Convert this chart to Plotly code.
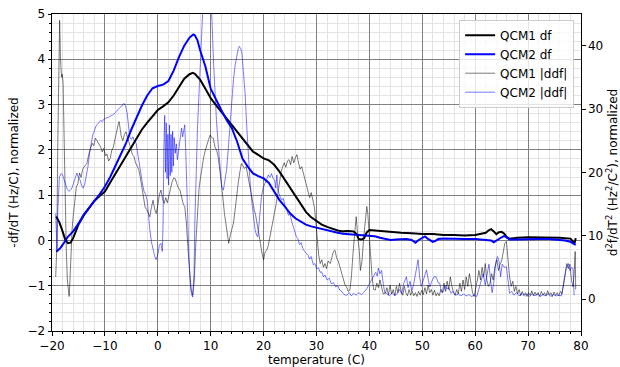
import plotly.graph_objects as go

# ---------------- data ----------------
qcm1_df_x = [-19.2,-18.6,-18,-17.5,-17,-16.5,-16,-15,-14,-13,-12,-11,-10,-9,-8,-7,-6,-5,-4,-3,-2,-1,0,1,2,3,4,5,6,6.6,7,8,9,10,11,12,13,14,15,16,17,18,19,20,21,22,23,24,25,26,27,28,29,30,31,32,33,34,35,36,37,37.5,38,38.5,39,39.5,40,41,42,44,46,48,50,52,54,56,58,60,61,62,62.5,63,63.5,64,64.5,65,65.5,66,66.5,67,68,70,72,74,76,77,78,78.5,78.8,79]
qcm1_df_y = [0.53,0.4,0.2,0.02,-0.06,-0.05,0.05,0.35,0.55,0.72,0.87,0.98,1.08,1.28,1.48,1.68,1.87,2.07,2.27,2.45,2.6,2.75,2.88,2.96,3.05,3.2,3.4,3.57,3.67,3.7,3.68,3.55,3.35,3.14,2.99,2.84,2.7,2.55,2.4,2.26,2.11,1.96,1.89,1.81,1.77,1.67,1.52,1.34,1.15,0.97,0.78,0.63,0.51,0.42,0.35,0.3,0.26,0.22,0.2,0.21,0.2,0.15,0.03,0.02,0.05,0.18,0.23,0.22,0.2,0.19,0.17,0.16,0.14,0.14,0.12,0.12,0.11,0.12,0.14,0.17,0.22,0.25,0.2,0.14,0.18,0.19,0.15,0.07,0.04,0.05,0.06,0.07,0.07,0.07,0.06,0.05,0.04,-0.02,-0.06,0.05]

qcm2_df_x = [-19.2,-18.5,-18,-17,-16,-15,-14,-13,-12,-11,-10,-9,-8,-7,-6,-5,-4,-3,-2,-1,0,1,2,3,4,5,6,6.7,7,7.5,8,9,10,11,12,13,14,15,16,17,18,19,20,21,22,23,24,25,26,27,28,29,30,31,32,33,34,35,36,37,38,39,40,41,42,43,44,45,46,47,48,48.7,49.3,50,50.5,51,52,52.5,53,54,56,58,60,62,63,63.5,64,65,65.5,66,66.5,68,70,72,74,76,77,78,78.7,79]
qcm2_df_y = [-0.25,-0.18,-0.1,0.08,0.2,0.37,0.57,0.72,0.86,1.02,1.19,1.4,1.65,1.9,2.15,2.45,2.72,2.98,3.2,3.36,3.41,3.44,3.52,3.75,4.05,4.3,4.48,4.55,4.53,4.42,4.2,3.84,3.35,3.1,2.88,2.66,2.48,2.18,1.81,1.63,1.48,1.42,1.37,1.27,1.08,0.89,0.75,0.6,0.49,0.42,0.35,0.31,0.28,0.25,0.22,0.19,0.17,0.15,0.14,0.13,0.12,0.11,0.11,0.09,0.06,0.03,0.01,0.02,0.02,0.03,0.01,-0.05,0.01,0.06,0.09,0.04,-0.03,-0.01,0.03,0.04,0.03,0.03,0.03,0.02,0.0,-0.04,0.0,0.07,0.1,0.06,0.02,0.02,0.03,0.03,0.03,0.02,0.0,-0.03,-0.08,-0.1]

qcm1_ddf_x = [-19.3,-19.1,-18.9,-18.7,-18.55,-18.4,-18.2,-18.05,-17.9,-17.7,-17.5,-17.3,-17.1,-16.9,-16.75,-16.6,-16.4,-16.2,-16.0,-15.7,-15.4,-15.1,-14.8,-14.5,-14.2,-13.8,-13.4,-13.0,-12.7,-12.4,-12.1,-11.8,-11.5,-11.2,-10.8,-10.5,-10.2,-9.9,-9.6,-9.3,-9.0,-8.7,-8.4,-8.1,-7.8,-7.5,-7.3,-7.1,-6.9,-6.6,-6.3,-6.0,-5.7,-5.4,-5.1,-4.8,-4.5,-4.2,-3.9,-3.6,-3.3,-3.0,-2.7,-2.4,-2.1,-1.8,-1.5,-1.2,-0.9,-0.6,-0.3,0.0,0.3,0.6,0.9,1.2,1.5,1.8,2.1,2.4,2.7,3.0,3.3,3.6,3.9,4.2,4.5,4.8,5.1,5.4,5.7,6.0,6.3,6.6,6.9,7.2,7.5,7.8,8.1,8.4,8.7,9.0,9.3,9.6,9.9,10.2,10.5,10.8,11.1,11.4,11.7,12.0,12.3,12.6,12.9,13.2,13.4,13.7,14.0,14.3,14.6,14.9,15.2,15.5,15.8,16.1,16.4,16.7,17.0,17.3,17.6,17.9,18.2,18.5,18.8,19.1,19.4,19.7,20.0,20.3,20.6,20.9,21.2,21.5,21.8,22.1,22.4,22.7,23.0,23.3,23.6,23.9,24.2,24.5,24.8,25.1,25.4,25.7,26.0,26.3,26.6,26.9,27.2,27.5,27.8,28.1,28.4,28.7,29.0,29.3,29.6,29.9,30.1,30.4,30.7,31.0,31.3,31.6,31.9,32.2,32.6,32.9,33.2,33.5,33.8,34.1,34.4,34.8,35.1,35.4,35.7,36.0,36.3,36.6,36.9,37.2,37.5,37.8,38.1,38.3,38.6,38.9,39.2,39.5,39.7,39.9,40.2,40.5,40.8,41.1,41.4,41.7,42.0,42.3,42.6,43.0,43.3,43.6,43.9,44.2,44.5,44.8,45.1,45.4,45.7,46.0,46.3,46.6,46.9,47.2,47.5,47.8,48.1,48.4,48.7,49.0,49.3,49.6,49.9,50.2,50.5,50.8,51.1,51.4,51.7,52.0,52.3,52.6,52.9,53.2,53.5,53.8,54.1,54.4,54.7,55.0,55.3,55.6,55.9,56.2,56.5,56.8,57.1,57.4,57.7,58.0,58.3,58.6,58.9,59.2,59.5,59.8,60.1,60.4,60.7,61.0,61.3,61.6,61.9,62.2,62.5,62.8,63.1,63.4,63.7,64.1,64.4,64.7,65.0,65.3,65.6,65.9,66.2,66.5,66.8,67.1,67.4,67.7,68.0,68.3,68.6,68.9,69.2,69.5,69.8,70.1,70.4,70.7,71.0,71.3,71.6,71.9,72.2,72.5,72.8,73.1,73.4,73.7,74.0,74.3,74.6,74.9,75.2,75.5,75.8,76.1,76.4,76.7,77.0,77.3,77.6,77.9,78.2,78.5,78.7,78.9,79.0]
qcm1_ddf_y = [3.5,8,25,40,44,38,35,35.5,34,25,15,8,3,1.0,0.4,3,8,11,13,15.5,17.7,18.2,19.9,19.2,20.5,21.0,21.4,23,23.8,24.6,24.2,25.4,25.0,24.5,24.0,23.2,23.8,22.6,22.9,21.8,22.2,23.5,24.0,25.2,26.7,27.5,28.0,26.5,25.6,25.0,26.0,26.4,25.5,24.4,23.5,22.8,22.5,21.5,21.0,20.4,19.2,17.5,15.5,14.5,14.1,13.5,13.0,14.5,15.6,14.2,13.5,14.8,16.5,17.2,15.8,15.1,16.0,15.2,16.5,17.8,18.5,19.1,19.0,18.2,17.5,17.2,16.0,15.0,14.6,12,8,4,1.5,0.6,3,9,14,17.5,19.3,21,22.5,23.5,24.5,25.2,25.9,25.5,25.4,24.0,23.5,22.5,20.5,18.5,16,13.5,11.5,9.5,8.8,10,11,12.0,14,16.5,18.3,20,21.4,21.0,20.6,20.9,19.5,18,16.8,15.5,14.2,13.2,11.5,10,8.8,7.2,6.2,7.5,7.7,8.5,10,11.4,12.5,13.8,15.1,17,18.5,20,20.9,21.5,20.8,21.8,22.0,21.2,22.5,21.5,22.3,22.8,21.5,20.5,20.9,19.9,19.0,18.0,17.2,16.0,16.8,15.6,14.5,12,9.3,7,5.6,6.2,5.0,5.6,4.8,6,5.6,6.8,7.5,7.7,6.5,6.0,5.2,4.1,3.0,2.2,1.9,1.2,1.4,3.5,7.2,10.5,13.0,10,7.5,4.5,6,9.5,12.5,14.6,13.5,11,7,3.5,1.5,1.4,2.5,1.8,3.0,2.0,0.8,0.9,1.8,0.6,2.2,0.8,1.5,0.5,2.0,1.0,2.5,1.2,0.6,2.0,1.0,0.5,1.5,0.6,1.2,0.5,1.0,0.4,1.2,0.6,1.4,0.7,1.8,0.8,2.2,1.0,1.5,0.6,1.4,0.5,1.0,0.5,1.5,1.0,2.5,1.2,2.8,1.5,3.5,2.0,1.0,0.6,1.5,0.8,2.5,1.2,3.0,1.5,3.5,2.0,4.0,2.5,1.0,0.4,1.5,3.0,4.5,3.0,5.0,3.5,5.6,3.0,2.0,2.5,4.0,3.0,5.0,6.2,4.5,5.5,6.0,7.5,8.8,9.1,6.0,3.5,2.0,2.8,1.2,2.0,0.8,1.5,0.5,1.2,0.6,1.0,0.4,1.0,0.6,1.3,0.5,1.1,0.6,1.0,0.4,1.2,0.6,1.0,0.5,1.3,0.6,1.0,0.4,1.1,0.6,1.0,0.5,1.2,0.8,2.5,4.0,5.6,4.8,5.5,3.0,1.9,4.0,7.5,1.5]

qcm2_ddf_x = [-19.3,-19.2,-19.05,-18.9,-18.75,-18.6,-18.3,-18.0,-17.7,-17.4,-17.1,-16.8,-16.5,-16.2,-15.9,-15.6,-15.3,-15.0,-14.7,-14.4,-14.1,-13.8,-13.5,-13.2,-12.9,-12.6,-12.3,-12.0,-11.7,-11.4,-11.1,-10.8,-10.5,-10.2,-9.9,-9.6,-9.3,-9.0,-8.7,-8.4,-8.1,-7.8,-7.5,-7.2,-6.9,-6.6,-6.4,-6.1,-5.8,-5.6,-5.3,-5.0,-4.7,-4.4,-4.1,-3.8,-3.5,-3.2,-2.9,-2.6,-2.3,-2.0,-1.8,-1.5,-1.2,-0.9,-0.6,-0.3,0.0,0.3,0.6,0.85,1.0,1.15,1.3,1.45,1.6,1.75,1.9,2.05,2.2,2.35,2.5,2.65,2.8,2.95,3.1,3.3,3.5,3.7,3.9,4.1,4.3,4.5,4.7,4.9,5.1,5.3,5.5,5.7,5.9,6.1,6.35,6.6,6.85,7.0,7.2,7.5,7.8,8.0,8.3,8.6,9.0,9.5,9.9,10.2,10.5,10.8,11.1,11.4,11.7,12.1,12.4,12.7,13.0,13.3,13.6,13.9,14.3,14.6,14.9,15.2,15.4,15.7,15.9,16.2,16.5,16.8,17.1,17.4,17.8,18.1,18.4,18.7,18.9,19.1,19.3,19.6,19.9,20.3,20.6,20.9,21.2,21.5,21.8,22.1,22.3,22.5,22.7,22.9,23.1,23.4,23.7,24.0,24.4,24.7,25.0,25.3,25.6,25.9,26.2,26.5,26.8,27.1,27.4,27.7,28.1,28.4,28.7,29.0,29.4,29.7,30.0,30.4,30.7,31.0,31.3,31.6,32.0,32.4,32.8,33.2,33.6,34.0,34.4,34.8,35.2,35.7,36.2,36.6,37.0,37.5,38.0,38.5,39.0,39.5,40.0,40.4,40.8,41.2,41.5,41.7,42.0,42.3,42.6,42.9,43.3,43.8,44.3,44.8,45.2,45.7,46.1,46.5,47.0,47.3,47.7,48.0,48.4,48.8,49.2,49.5,49.8,50.2,50.5,50.8,51.1,51.4,51.8,52.2,52.6,53.0,53.3,53.6,54.0,54.3,54.6,55.0,55.4,55.8,56.3,56.8,57.3,57.8,58.3,58.8,59.3,59.8,60.3,60.7,61.1,61.5,61.9,62.3,62.6,62.9,63.2,63.5,63.9,64.2,64.5,64.8,65.1,65.5,65.9,66.2,66.5,66.9,67.3,67.8,68.3,68.8,69.3,69.8,70.3,70.8,71.3,71.8,72.3,72.8,73.3,73.8,74.3,74.8,75.3,75.8,76.3,76.6,76.9,77.2,77.6,77.9,78.2,78.5,78.7]
qcm2_ddf_y = [13.5,10,7.8,14,18.5,19.3,19.8,19.6,18.8,18.0,17.3,17.0,17.2,17.6,18.5,19.4,19.9,19.2,18.8,17.9,17.5,18.2,19.5,20.9,23.0,24.8,25.9,26.5,27.3,27.6,27.9,28.2,28.0,28.4,28.5,28.7,28.6,28.9,29.0,29.1,29.4,29.6,29.9,30.2,30.4,30.6,30.9,30.5,29.4,27.5,25.6,25.2,25.6,24.8,24.6,23.0,21.2,19.5,18.2,17.0,16.5,15.5,13.5,10.9,9.0,7.7,6.8,6.2,7.0,8.5,8.8,7.5,12,24,29,20,27.8,19,26,18,27.5,19.5,26,20,26.5,21,25.5,23,24.5,22,23.5,25,26.2,27,25.6,26.5,27.5,23,16,10,6,3,0.8,0.3,4,12,19.3,27,32.5,38,46,52,55,55,50,45,38,32.5,28,24.6,21,17.7,17.2,18.5,20.4,23.5,27.2,30.5,34.6,36.8,38.3,39.5,39.9,39.5,38.8,36,32.5,27.5,23.0,19,15.1,12.5,10.9,10.0,9.8,11.5,14.1,16.2,17.5,18.3,19.0,19.6,19.2,19.8,19.0,18.8,17.5,19.6,17.2,16.5,16.2,15.6,15.9,14.8,14.1,13.2,13.5,12.3,11.5,11.0,9.8,9.5,8.6,8.9,8.0,7.6,7.2,6.9,6.3,6.7,5.4,5.6,4.8,4.9,4.2,4.3,3.5,3.8,3.0,3.3,2.4,2.6,1.9,2.1,1.4,1.2,0.7,0.6,1.0,0.5,0.9,0.6,1.0,0.7,1.1,1.6,2.4,3.0,3.5,4.2,3.6,4.9,4.0,4.5,2.5,1.0,0.9,0.5,1.0,0.6,0.8,1.5,0.8,2.5,3.5,1.8,2.8,1.2,2.5,4.5,6.2,3.5,2.0,3.0,4.0,4.6,3.2,1.9,2.8,3.5,3.5,2.6,2.5,1.1,1.2,2.2,1.6,1.8,0.9,1.2,0.6,0.8,0.5,0.8,0.5,0.7,0.4,0.6,0.4,1.5,2.8,4.0,2.2,4.5,5.5,3.0,1.0,2.5,5.8,6.7,6.0,3.5,5.5,5.0,5.1,3.0,0.9,1.2,0.6,1.0,0.5,0.9,0.5,0.8,0.4,0.9,0.5,0.8,0.4,0.7,0.5,0.9,0.4,0.7,0.5,0.6,0.5,1.8,3.5,4.8,5.6,4.5,5.0,4.8,0.6]

x_ticks = [-20, -10, 0, 10, 20, 30, 40, 50, 60, 70, 80]
y_left_ticks = [-2, -1, 0, 1, 2, 3, 4, 5]
y_right_ticks = [0, 10, 20, 30, 40]

# ---------------- figure ----------------
FONT = "DejaVu Sans"
FS = 12
fig = go.Figure()
fig.add_trace(go.Scatter(x=qcm1_df_x, y=qcm1_df_y, mode="lines", name="QCM1 df",
                         line=dict(color="#000000", width=2)))
fig.add_trace(go.Scatter(x=qcm2_df_x, y=qcm2_df_y, mode="lines", name="QCM2 df",
                         line=dict(color="#0000ff", width=2)))
fig.add_trace(go.Scatter(x=qcm1_ddf_x, y=qcm1_ddf_y, mode="lines", name="QCM1 |ddf|",
                         line=dict(color="rgba(0,0,0,0.65)", width=0.8), yaxis="y2"))
fig.add_trace(go.Scatter(x=qcm2_ddf_x, y=qcm2_ddf_y, mode="lines", name="QCM2 |ddf|",
                         line=dict(color="rgba(0,0,255,0.65)", width=0.8), yaxis="y2"))

axis_common = dict(showline=True, linecolor="black", linewidth=1, ticks="outside",
                   ticklen=3.5, tickcolor="black", zeroline=False, automargin=False,
                   tickfont=dict(family=FONT, size=FS, color="black"))

fig.update_layout(
    width=620, height=367,
    margin=dict(l=52, r=39, t=14, b=36),
    paper_bgcolor="white", plot_bgcolor="white",
    font=dict(family=FONT, size=FS, color="black"),
    showlegend=True,
    legend=dict(x=0.987, xanchor="right", y=0.982, yanchor="top",
                bgcolor="rgba(255,255,255,0.8)", bordercolor="#cccccc", borderwidth=1,
                font=dict(family=FONT, size=FS, color="black"),
                tracegroupgap=0, itemwidth=30),
    xaxis=dict(range=[-20, 80], tickvals=x_ticks, mirror=True,
               showgrid=True, gridcolor="#808080", gridwidth=1,
               minor=dict(dtick=2, showgrid=True, gridcolor="#e3e3e3", gridwidth=1,
                          ticks="outside", ticklen=2, tickcolor="black"),
               title=dict(text="temperature (C)", standoff=3,
                          font=dict(family=FONT, size=FS)),
               **axis_common),
    yaxis=dict(range=[-2, 5], tickvals=y_left_ticks,
               showgrid=True, gridcolor="#808080", gridwidth=1,
               minor=dict(dtick=0.2, showgrid=True, gridcolor="#e3e3e3", gridwidth=1,
                          ticks="outside", ticklen=2, tickcolor="black"),
               title=dict(text="-df/dT (Hz/C), normalized", standoff=6,
                          font=dict(family=FONT, size=FS)),
               **axis_common),
    yaxis2=dict(range=[-5.05, 45], tickvals=y_right_ticks, overlaying="y", side="right",
                showgrid=False,
                title=dict(text="d<sup>2</sup>f/dT<sup>2</sup> (Hz<sup>2</sup>/C<sup>2</sup>), normalized",
                           standoff=6, font=dict(family=FONT, size=FS)),
                **axis_common),
)

fig.write_html("out.html")
